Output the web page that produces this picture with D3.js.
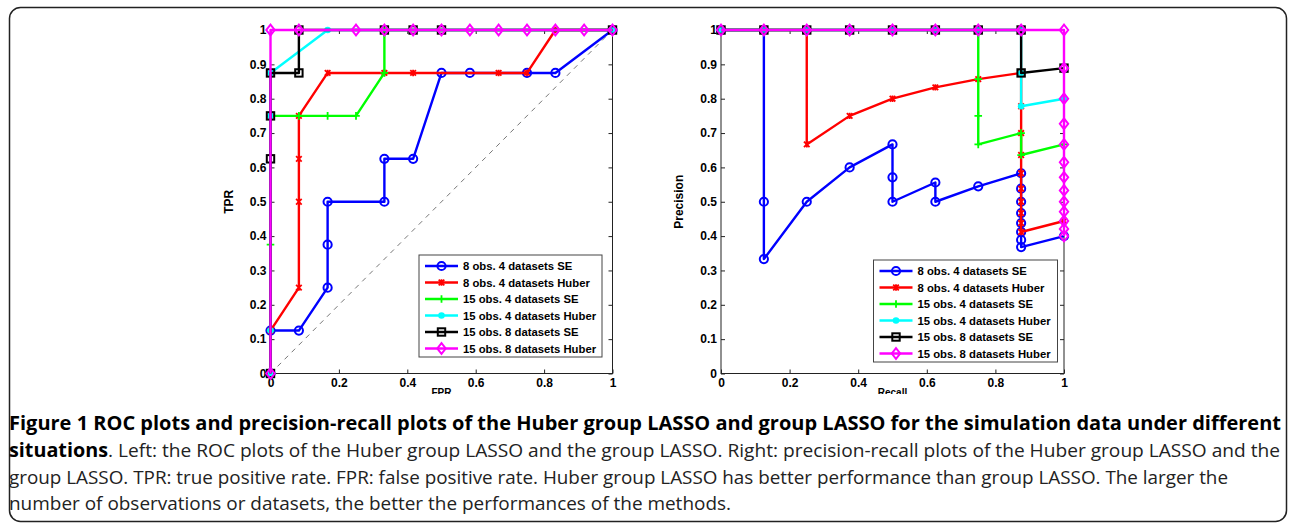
<!DOCTYPE html>
<html>
<head>
<meta charset="utf-8">
<script src="https://cdn.jsdelivr.net/npm/d3@7"></script>
<style>
  body { margin: 0; background: #fff; }
  svg { display: block; }
</style>
</head>
<body>
<svg></svg>
<script>
// series names (legend order)
var seriesNames = ["8 obs. 4 datasets SE", "8 obs. 4 datasets Huber", "15 obs. 4 datasets SE",
                   "15 obs. 4 datasets Huber", "15 obs. 8 datasets SE", "15 obs. 8 datasets Huber"];

// ROC curves (FPR, TPR)
var rocSE8x4Fpr    = [0, 0, 0.083, 0.167, 0.167, 0.167, 0.333, 0.333, 0.417, 0.5, 0.583, 0.75, 0.833, 1];
var rocSE8x4Tpr    = [0, 0.125, 0.125, 0.25, 0.375, 0.5, 0.5, 0.625, 0.625, 0.875, 0.875, 0.875, 0.875, 1];
var rocHub8x4Fpr   = [0, 0, 0.083, 0.083, 0.083, 0.083, 0.167, 0.333, 0.417, 0.667, 0.75, 0.833, 1];
var rocHub8x4Tpr   = [0, 0.125, 0.25, 0.5, 0.625, 0.75, 0.875, 0.875, 0.875, 0.875, 0.875, 1, 1];
var rocSE15x4Fpr   = [0, 0, 0, 0, 0.083, 0.167, 0.25, 0.333, 0.333, 1];
var rocSE15x4Tpr   = [0, 0.125, 0.375, 0.75, 0.75, 0.75, 0.75, 0.875, 1, 1];
var rocHub15x4Fpr  = [0, 0, 0, 0, 0.167, 1];
var rocHub15x4Tpr  = [0, 0.125, 0.75, 0.875, 1, 1];
var rocSE15x8Fpr   = [0, 0, 0, 0, 0.083, 0.083, 0.333, 0.417, 0.5, 1];
var rocSE15x8Tpr   = [0, 0.625, 0.75, 0.875, 0.875, 1, 1, 1, 1, 1];
var rocHub15x8Fpr  = [0, 0, 0.083, 0.25, 0.333, 0.417, 0.5, 0.583, 0.667, 0.75, 0.833, 0.917, 1];
var rocHub15x8Tpr  = [0, 1, 1, 1, 1, 1, 1, 1, 1, 1, 1, 1, 1];

// precision-recall curves (Recall, Precision)
var prSE8x4Rec   = [0, 0.125, 0.125, 0.125, 0.25, 0.375, 0.5, 0.5, 0.5, 0.625, 0.625, 0.75,
                    0.875, 0.875, 0.875, 0.875, 0.875, 0.875, 0.875, 0.875, 1];
var prSE8x4Prec  = [1, 1, 0.5, 0.333, 0.5, 0.6, 0.667, 0.571, 0.5, 0.556, 0.5, 0.545,
                    0.583, 0.538, 0.5, 0.467, 0.438, 0.412, 0.389, 0.368, 0.4];
var prHub8x4Rec  = [0, 0.125, 0.25, 0.25, 0.375, 0.5, 0.625, 0.75, 0.875, 0.875, 0.875, 0.875,
                    0.875, 0.875, 0.875, 0.875, 0.875, 0.875, 1];
var prHub8x4Prec = [1, 1, 1, 0.667, 0.75, 0.8, 0.833, 0.857, 0.875, 0.778, 0.7, 0.636,
                    0.583, 0.538, 0.5, 0.467, 0.438, 0.412, 0.444];
var prSE15x4Rec  = [0, 0.125, 0.25, 0.375, 0.5, 0.625, 0.75, 0.75, 0.75, 0.75, 0.875, 0.875, 1];
var prSE15x4Prec = [1, 1, 1, 1, 1, 1, 1, 0.857, 0.75, 0.667, 0.7, 0.636, 0.667];
var prHub15x4Rec  = [0, 0.125, 0.25, 0.375, 0.5, 0.625, 0.75, 0.875, 0.875, 0.875, 1];
var prHub15x4Prec = [1, 1, 1, 1, 1, 1, 1, 1, 0.875, 0.778, 0.8];
var prSE15x8Rec  = [0, 0.125, 0.25, 0.375, 0.5, 0.625, 0.75, 0.875, 0.875, 1];
var prSE15x8Prec = [1, 1, 1, 1, 1, 1, 1, 1, 0.875, 0.889];
var prHub15x8Rec  = [0, 0.125, 0.25, 0.375, 0.5, 0.625, 0.75, 0.875, 1,
                     1, 1, 1, 1, 1, 1, 1, 1, 1, 1, 1, 1];
var prHub15x8Prec = [1, 1, 1, 1, 1, 1, 1, 1, 1,
                     0.889, 0.8, 0.727, 0.667, 0.615, 0.571, 0.533, 0.5, 0.471, 0.444, 0.421, 0.4];

// tick labels
var xTicks = [0, 0.2, 0.4, 0.6, 0.8, 1];
var yTicks = [0, 0.1, 0.2, 0.3, 0.4, 0.5, 0.6, 0.7, 0.8, 0.9, 1];

// styles (MATLAB default-ish)
var colors  = ["#0000ff", "#ff0000", "#00ff00", "#00ffff", "#000000", "#ff00ff"];
var markers = ["circle", "x", "plus", "dot", "square", "diamond"];

var zip = function(xs, ys) {
  return xs.map(function(x, i) { return {x: x, y: ys[i]}; });
};

var rocData = [zip(rocSE8x4Fpr, rocSE8x4Tpr), zip(rocHub8x4Fpr, rocHub8x4Tpr),
               zip(rocSE15x4Fpr, rocSE15x4Tpr), zip(rocHub15x4Fpr, rocHub15x4Tpr),
               zip(rocSE15x8Fpr, rocSE15x8Tpr), zip(rocHub15x8Fpr, rocHub15x8Tpr)];
var prData  = [zip(prSE8x4Rec, prSE8x4Prec), zip(prHub8x4Rec, prHub8x4Prec),
               zip(prSE15x4Rec, prSE15x4Prec), zip(prHub15x4Rec, prHub15x4Prec),
               zip(prSE15x8Rec, prSE15x8Prec), zip(prHub15x8Rec, prHub15x8Prec)];

var svg = d3.select("svg")
            .attr("width", 1292)
            .attr("height", 524);

svg.append("defs").append("clipPath")
   .attr("id", "figclip")
   .append("rect")
   .attr("x", 0).attr("y", 0)
   .attr("width", 1292).attr("height", 394);

var fmt = function(d) { return String(+d.toFixed(1)); };

// draw one marker into group g at (0,0)
var drawMarker = function(g, type, color)
{
  if (type == "circle") {
    g.append("circle").attr("r", 4.1).attr("fill", "none")
     .attr("stroke", color).attr("stroke-width", 2);
  } else if (type == "x") {
    g.append("path").attr("d", "M-2.8,-2.8L2.8,2.8M-2.8,2.8L2.8,-2.8M0,-3.2V3.2")
     .attr("stroke", color).attr("stroke-width", 1.8).attr("fill", "none");
  } else if (type == "plus") {
    g.append("path").attr("d", "M-3.8,0H3.8M0,-3.8V3.8")
     .attr("stroke", color).attr("stroke-width", 1.8).attr("fill", "none");
  } else if (type == "dot") {
    g.append("circle").attr("r", 3.3).attr("fill", color);
  } else if (type == "square") {
    g.append("rect").attr("x", -3.7).attr("y", -3.7).attr("width", 7.4).attr("height", 7.4)
     .attr("fill", "none").attr("stroke", color).attr("stroke-width", 2);
  } else if (type == "diamond") {
    g.append("path").attr("d", "M0,-5.3L4.2,0L0,5.3L-4.2,0Z")
     .attr("fill", "none").attr("stroke", color).attr("stroke-width", 2);
  }
};

var drawPanel = function(data, box, xLabel, yLabel, legendBox, diagonal)
{
  var xScale = d3.scaleLinear().domain([0, 1]).range([box.left, box.right]);
  var yScale = d3.scaleLinear().domain([0, 1]).range([box.bottom, box.top]);

  var panel = svg.append("g");

  // axes with inward ticks
  panel.append("g")
       .attr("transform", "translate(0," + box.bottom + ")")
       .call(d3.axisBottom(xScale).tickValues(xTicks).tickFormat(fmt).tickSize(-4).tickPadding(5))
       .call(function(g) { g.select(".domain").remove(); });
  panel.append("g")
       .attr("transform", "translate(0," + box.top + ")")
       .call(d3.axisTop(xScale).tickValues(xTicks).tickFormat("").tickSize(-4))
       .call(function(g) { g.select(".domain").remove(); });
  panel.append("g")
       .attr("transform", "translate(" + box.left + ",0)")
       .call(d3.axisLeft(yScale).tickValues(yTicks).tickFormat(fmt).tickSize(-4).tickPadding(4))
       .call(function(g) { g.select(".domain").remove(); });
  panel.append("g")
       .attr("transform", "translate(" + box.right + ",0)")
       .call(d3.axisRight(yScale).tickValues(yTicks).tickFormat("").tickSize(-4))
       .call(function(g) { g.select(".domain").remove(); });

  panel.selectAll(".tick text")
       .style("font-family", "'Liberation Sans', Arial, sans-serif")
       .style("font-size", "12px")
       .style("font-weight", "bold")
       .attr("fill", "#000");
  panel.selectAll(".tick line").attr("stroke", "#222");

  panel.append("rect")
       .attr("x", box.left).attr("y", box.top)
       .attr("width", box.right - box.left).attr("height", box.bottom - box.top)
       .attr("fill", "none").attr("stroke", "#222").attr("stroke-width", 1);

  if (diagonal) {
    panel.append("line")
         .attr("x1", xScale(0)).attr("y1", yScale(0))
         .attr("x2", xScale(1)).attr("y2", yScale(1))
         .attr("stroke", "#777").attr("stroke-width", 1)
         .attr("stroke-dasharray", "5,5");
  }

  var line = d3.line()
               .x(function(d) { return xScale(d.x); })
               .y(function(d) { return yScale(d.y); });

  data.forEach(function(series, i) {
    var sg = panel.append("g");
    sg.append("path")
      .attr("d", line(series))
      .attr("fill", "none")
      .attr("stroke", colors[i])
      .attr("stroke-width", 2.4)
      .attr("stroke-linejoin", "round");
    sg.selectAll("g.mk")
      .data(series)
      .enter()
      .append("g")
      .classed("mk", true)
      .attr("transform", function(d) { return "translate(" + xScale(d.x) + "," + yScale(d.y) + ")"; })
      .each(function() { drawMarker(d3.select(this), markers[i], colors[i]); });
  });

  // axis labels
  panel.append("text")
       .attr("clip-path", "url(#figclip)")
       .attr("x", (box.left + box.right) / 2)
       .attr("y", box.bottom + 22)
       .attr("text-anchor", "middle")
       .style("font-family", "'Liberation Sans', Arial, sans-serif")
       .style("font-size", "10px")
       .style("font-weight", "bold")
       .text(xLabel);

  panel.append("text")
       .attr("transform", "translate(" + (box.left - 38) + "," + ((box.top + box.bottom) / 2) + ") rotate(-90)")
       .attr("text-anchor", "middle")
       .style("font-family", "'Liberation Sans', Arial, sans-serif")
       .style("font-size", "12px")
       .style("font-weight", "bold")
       .text(yLabel);

  // legend
  var legend = panel.append("g")
                    .attr("transform", "translate(" + legendBox.x + "," + legendBox.y + ")");
  legend.append("rect")
        .attr("width", legendBox.w).attr("height", legendBox.h)
        .attr("fill", "#fff").attr("stroke", "#444").attr("stroke-width", 1);

  var rows = legend.selectAll("g.row")
                   .data(seriesNames)
                   .enter()
                   .append("g")
                   .classed("row", true)
                   .attr("transform", function(d, i) { return "translate(0," + (11 + i * 16.5) + ")"; });
  rows.append("line")
      .attr("x1", 6).attr("x2", 39).attr("y1", 0).attr("y2", 0)
      .attr("stroke", function(d, i) { return colors[i]; })
      .attr("stroke-width", 2.4);
  rows.append("g")
      .attr("transform", "translate(22.5,0)")
      .each(function(d, i) { drawMarker(d3.select(this), markers[i], colors[i]); });
  rows.append("text")
      .attr("x", 44).attr("y", 4)
      .style("font-family", "'Liberation Sans', Arial, sans-serif")
      .style("font-size", "11.3px")
      .style("font-weight", "bold")
      .text(function(d) { return d; });
};

drawPanel(rocData, {left: 270.5, right: 612.5, top: 30, bottom: 373.5}, "FPR", "TPR",
          {x: 419, y: 255, w: 183, h: 102}, true);
drawPanel(prData, {left: 721, right: 1064, top: 30, bottom: 373.5}, "Recall", "Precision",
          {x: 873.5, y: 260, w: 184, h: 102}, false);

// outer frame
svg.append("rect")
   .attr("x", 9.5).attr("y", 7.5)
   .attr("width", 1277).attr("height", 514)
   .attr("rx", 11)
   .attr("fill", "none").attr("stroke", "#222").attr("stroke-width", 1.5);

// caption
var capFont = "'Open Sans', 'Noto Sans', sans-serif";
var caption = svg.append("g").style("font-family", capFont).style("font-size", "19px");

caption.append("text")
       .attr("x", 9).attr("y", 430)
       .attr("textLength", 1272).attr("lengthAdjust", "spacingAndGlyphs")
       .style("font-weight", "bold")
       .text("Figure 1 ROC plots and precision-recall plots of the Huber group LASSO and group LASSO for the simulation data under different");
caption.append("text")
       .attr("x", 9).attr("y", 457)
       .attr("textLength", 99).attr("lengthAdjust", "spacingAndGlyphs")
       .style("font-weight", "bold")
       .text("situations");
caption.append("text")
       .attr("x", 108).attr("y", 457)
       .attr("textLength", 1172).attr("lengthAdjust", "spacingAndGlyphs")
       .attr("fill", "#222")
       .text(". Left: the ROC plots of the Huber group LASSO and the group LASSO. Right: precision-recall plots of the Huber group LASSO and the");
caption.append("text")
       .attr("x", 9).attr("y", 484)
       .attr("textLength", 1219).attr("lengthAdjust", "spacingAndGlyphs")
       .attr("fill", "#222")
       .text("group LASSO. TPR: true positive rate. FPR: false positive rate. Huber group LASSO has better performance than group LASSO. The larger the");
caption.append("text")
       .attr("x", 9).attr("y", 510)
       .attr("textLength", 722).attr("lengthAdjust", "spacingAndGlyphs")
       .attr("fill", "#222")
       .text("number of observations or datasets, the better the performances of the methods.");
</script>
</body>
</html>
